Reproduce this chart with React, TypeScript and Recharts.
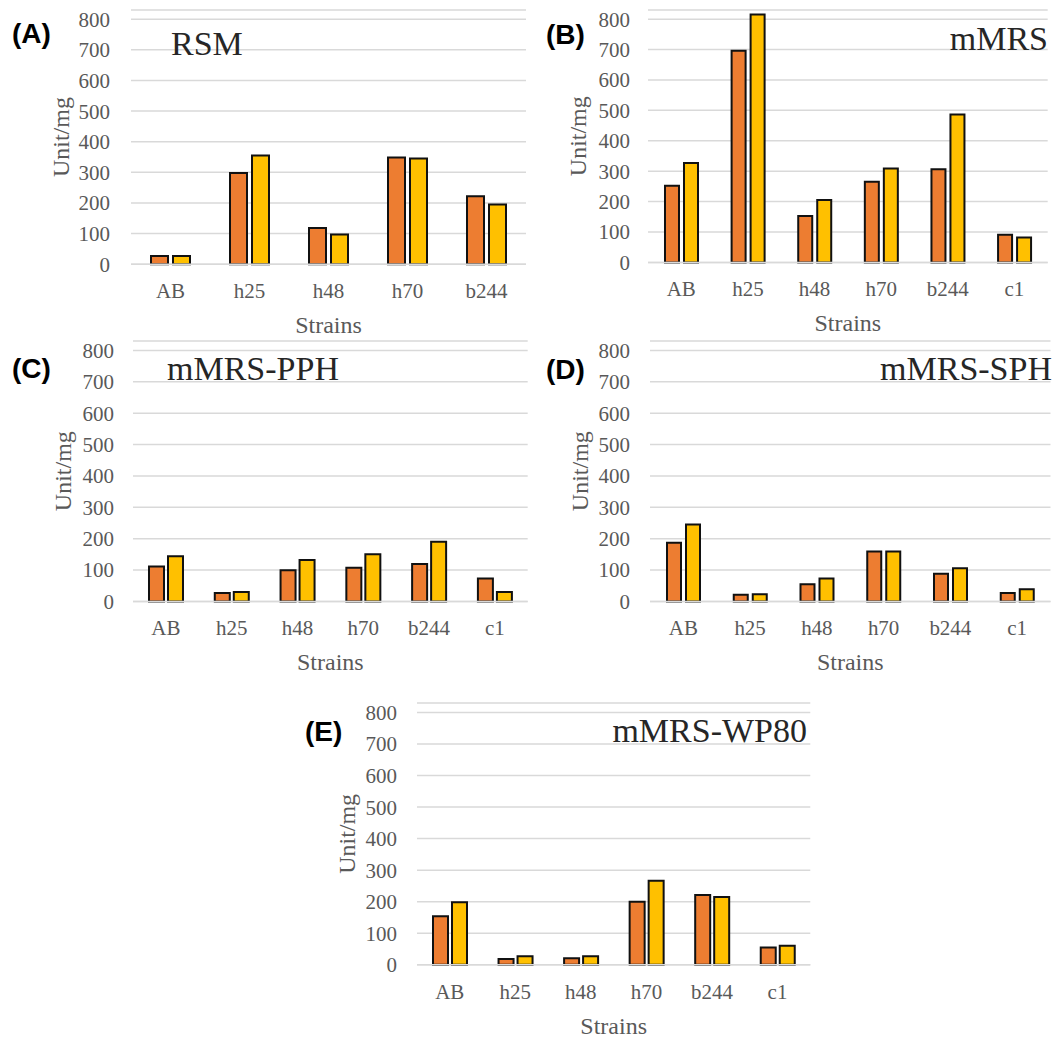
import React from "react";
import { BarChart, Bar, XAxis, YAxis, CartesianGrid } from "recharts";

// strains on the x axis
const strainsA = ["AB", "h25", "h48", "h70", "b244"];
const strainsAll = ["AB", "h25", "h48", "h70", "b244", "c1"];
const yTicks = [0, 100, 200, 300, 400, 500, 600, 700, 800];

// Unit/mg, orange = first series, yellow = second series
const rsmOrange = [27, 298, 118, 348, 222];
const rsmYellow = [27, 355, 97, 345, 195];
const mmrsOrange = [252, 696, 153, 265, 306, 91];
const mmrsYellow = [327, 815, 205, 309, 486, 82];
const pphOrange = [111, 27, 99, 107, 119, 73];
const pphYellow = [144, 30, 132, 150, 190, 30];
const sphOrange = [187, 21, 55, 159, 88, 27];
const sphYellow = [245, 23, 73, 159, 106, 39];
const wp80Orange = [154, 18, 21, 200, 221, 55];
const wp80Yellow = [198, 27, 27, 266, 215, 60];

const SERIF = "'Liberation Serif', 'Times New Roman', serif";
const SANS = "'Liberation Sans', Arial, sans-serif";
const GREY = "#595959";
const GRID = "#d9d9d9";
const ORANGE = "#ED7D31";
const YELLOW = "#FFC000";
const TOP = 830; // a bit above 800 so the tallest bar is not cut

type PanelProps = {
  cats: string[];
  s1: number[];
  s2: number[];
  L: number; R: number; y800: number; y0: number;
  barSize: number; barGap: number; tickGap: number;
};

function Panel({ cats, s1, s2, L, R, y800, y0, barSize, barGap, tickGap }: PanelProps) {
  const data = cats.map((c, i) => ({ strain: c, v1: s1[i], v2: s2[i] }));
  const perUnit = (y0 - y800) / 800;
  const yTop = y800 - (TOP - 800) * perUnit;
  const axisW = 100, padTop = 20, axisH = 69, padRight = 10, padBottom = 8;
  const left = L - axisW;
  const top = yTop - padTop;
  const width = R - left + padRight;
  const height = y0 + axisH + padBottom - top;
  const tickStyle = { fill: GREY, fontSize: 21, fontFamily: SERIF, style: { fontFamily: SERIF } };
  const labelStyle = { fill: GREY, fontSize: 24, fontFamily: SERIF };
  return (
    <div style={{ position: "absolute", left, top, fontFamily: SERIF }}>
      <BarChart width={width} height={height} data={data}
        margin={{ top: padTop, right: padRight, bottom: padBottom, left: 0 }}
        barSize={barSize} barGap={barGap}>
        <CartesianGrid vertical={false} stroke={GRID} strokeWidth={1.5} />
        <XAxis dataKey="strain" height={axisH} interval={0}
          tickLine={false} tickSize={0} tickMargin={19}
          axisLine={{ stroke: GRID, strokeWidth: 1.5 }}
          tick={tickStyle}
          label={{ value: "Strains", position: "insideBottom", offset: 0, ...labelStyle, style: { fontFamily: SERIF } }} />
        <YAxis width={axisW} domain={[0, TOP]} ticks={yTicks}
          axisLine={false} tickLine={false} tickSize={0} tickMargin={tickGap}
          tick={tickStyle}
          label={{ value: "Unit/mg", angle: -90, position: "insideLeft", offset: 29, ...labelStyle, style: { textAnchor: "middle", fontFamily: SERIF } }} />
        <Bar dataKey="v1" fill={ORANGE} stroke="#111" strokeWidth={2} isAnimationActive={false} />
        <Bar dataKey="v2" fill={YELLOW} stroke="#111" strokeWidth={2} isAnimationActive={false} />
      </BarChart>
    </div>
  );
}

export default function App() {
  return (
    <div style={{ position: "absolute", left: 0, top: 0, width: 1058, height: 1037, background: "#fff" }}>
      <Panel cats={strainsA} s1={rsmOrange} s2={rsmYellow} L={131} R={526} y800={19.3} y0={264.3} barSize={17} barGap={5} tickGap={21} />
      <Panel cats={strainsAll} s1={mmrsOrange} s2={mmrsYellow} L={648} R={1047.7} y800={19} y0={262.3} barSize={14} barGap={5} tickGap={18} />
      <Panel cats={strainsAll} s1={pphOrange} s2={pphYellow} L={133.3} R={528} y800={350.7} y0={601.7} barSize={15} barGap={4} tickGap={19} />
      <Panel cats={strainsAll} s1={sphOrange} s2={sphYellow} L={649.5} R={1050} y800={350} y0={601} barSize={14} barGap={5} tickGap={20} />
      <Panel cats={strainsAll} s1={wp80Orange} s2={wp80Yellow} L={416.7} R={810} y800={712.7} y0={965} barSize={15} barGap={4} tickGap={20} />
      <svg width={1058} height={1037} style={{ position: "absolute", left: 0, top: 0, pointerEvents: "none" }}>
        <g fontFamily={SANS} fontWeight="bold" fontSize={28} fill="#000">
          <text x={12} y={42.5}>(A)</text>
          <text x={546} y={44}>(B)</text>
          <text x={12} y={377.5}>(C)</text>
          <text x={546} y={379}>(D)</text>
          <text x={305} y={740.5}>(E)</text>
        </g>
        <g fontFamily={SERIF} fontSize={34} fill="#262626">
          <text x={171} y={55}>RSM</text>
          <text x={1048} y={50} textAnchor="end">mMRS</text>
          <text x={167} y={380}>mMRS-PPH</text>
          <text x={1052} y={380} textAnchor="end">mMRS-SPH</text>
          <text x={807} y={741.5} textAnchor="end">mMRS-WP80</text>
        </g>
      </svg>
    </div>
  );
}
